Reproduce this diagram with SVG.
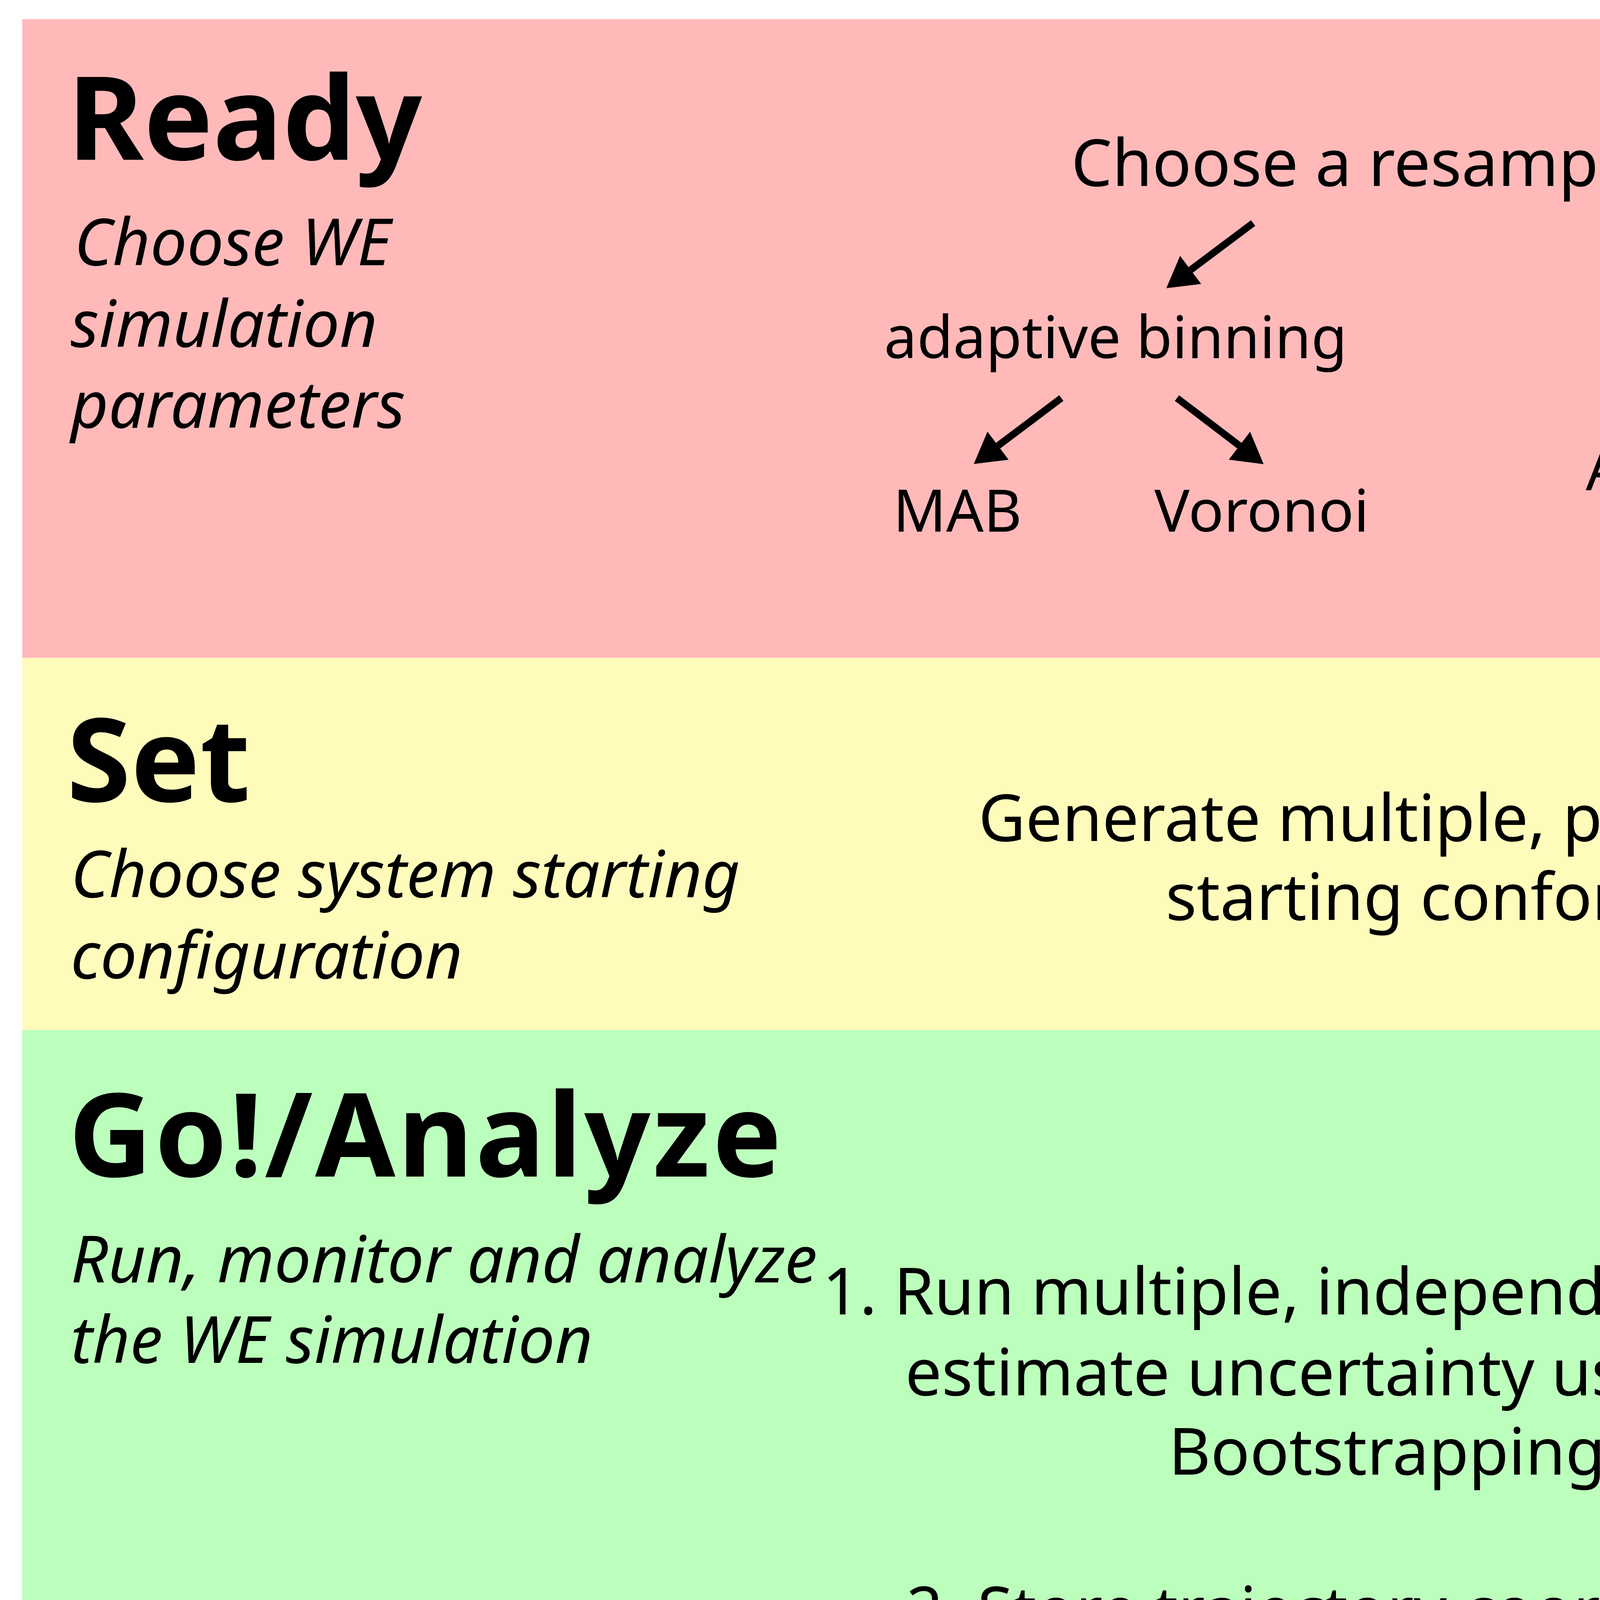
<svg xmlns="http://www.w3.org/2000/svg" width="5906" height="5610" viewBox="0 0 5906 5610">
<defs>
<style>
.bg{stroke:none}
.title{font-family:"Noto Sans","Open Sans",sans-serif;font-weight:bold;font-size:297px;fill:#000}
.sub{font-family:"Noto Sans","Open Sans",sans-serif;font-style:italic;font-size:167px;fill:#000}
.main{font-family:"Noto Sans","Open Sans",sans-serif;font-size:166px;fill:#000;text-anchor:middle}
.small{font-family:"Noto Sans","Open Sans",sans-serif;font-size:150px;fill:#000;text-anchor:middle}
.arr{stroke:#000;stroke-width:18;fill:none;marker-end:url(#ah)}
</style>
<marker id="ah" markerUnits="userSpaceOnUse" markerWidth="80" markerHeight="90" viewBox="0 0 76 88" refX="0" refY="44" orient="auto">
<path d="M0,0 L76,44 L0,88 Z" fill="#000"/>
</marker>
</defs>
<rect width="5906" height="5610" fill="#ffffff"/>
<g id="ready">
<rect class="bg" x="57" y="49" width="5790" height="1636" fill="#ffb9b9"/>
<text class="title" x="173" y="409">Ready</text>
<text class="sub" x="190" y="679">Choose WE</text>
<text class="sub" x="181" y="888">simulation</text>
<text class="sub" x="181" y="1095">parameters</text>
</g>
<g id="set">
<rect class="bg" x="57" y="1684" width="5790" height="954" fill="#fffcbb"/>
<text class="title" x="171" y="2052">Set</text>
<text class="sub" x="181" y="2297">Choose system starting</text>
<text class="sub" x="181" y="2505">configuration</text>
</g>
<g id="go">
<rect class="bg" x="57" y="2637" width="5790" height="2917" fill="#bcffbc"/>
<text class="title" x="175" y="3012" style="letter-spacing:6px">Go!/Analyze</text>
<text class="sub" x="181" y="3283">Run, monitor and analyze</text>
<text class="sub" x="181" y="3489">the WE simulation</text>
</g>
<g id="n-resample"><text class="main" x="3886" y="476">Choose a resampling scheme</text></g>
<g id="n-adaptive"><text class="small" x="2856" y="917">adaptive binning</text></g>
<g id="n-binless"><text class="small" x="4727" y="916">binless</text></g>
<g id="n-mab"><text class="small" x="2451" y="1361">MAB</text></g>
<g id="n-voronoi"><text class="small" x="3230" y="1361">Voronoi</text></g>
<g id="n-grouping"><text class="small" x="4849" y="1255">Any grouping function</text><text class="small" x="4851" y="1442">(e.g. k-means)</text></g>
<g id="n-generate"><text class="main" x="3881" y="2153">Generate multiple, pre-equilibrated</text><text class="main" x="3881" y="2355">starting conformations</text></g>
<g id="n-step1"><text class="main" x="3879" y="3365">1. Run multiple, independent simulations and</text><text class="main" x="3879" y="3572">estimate uncertainty using the Bayesian</text><text class="main" x="3879" y="3775">Bootstrapping method</text></g>
<g id="n-step2"><text class="main" x="3879" y="4181">2. Store trajectory coordinates using the</text><text class="main" x="3879" y="4386">HDF5 framework</text></g>
<g id="n-step3"><text class="main" x="3874" y="4747">3. Assess convergence to a</text><text class="main" x="3874" y="4954">steady state</text></g>
<g id="n-red"><text class="small" x="2671" y="5395">RED scheme</text></g>
<g id="n-hamsm"><text class="small" x="3868" y="5395">haMSM plugin</text></g>
<g id="n-wess"><text class="small" x="5077" y="5395">WESS plugin</text></g>
<g id="connectors">
<line class="arr" x1="3208" y1="571" x2="3048" y2="691"/>
<line class="arr" x1="4514" y1="570" x2="4672" y2="690"/>
<line class="arr" x1="2717" y1="1019" x2="2555" y2="1141"/>
<line class="arr" x1="3013" y1="1019" x2="3173" y2="1141"/>
<line class="arr" x1="4763" y1="955" x2="4922" y2="1075"/>
<line class="arr" x1="3202" y1="5036" x2="3040" y2="5159"/>
<line class="arr" x1="3886" y1="5038" x2="3886" y2="5157"/>
<line class="arr" x1="4527" y1="5036" x2="4687" y2="5156"/>
</g>
</svg>
